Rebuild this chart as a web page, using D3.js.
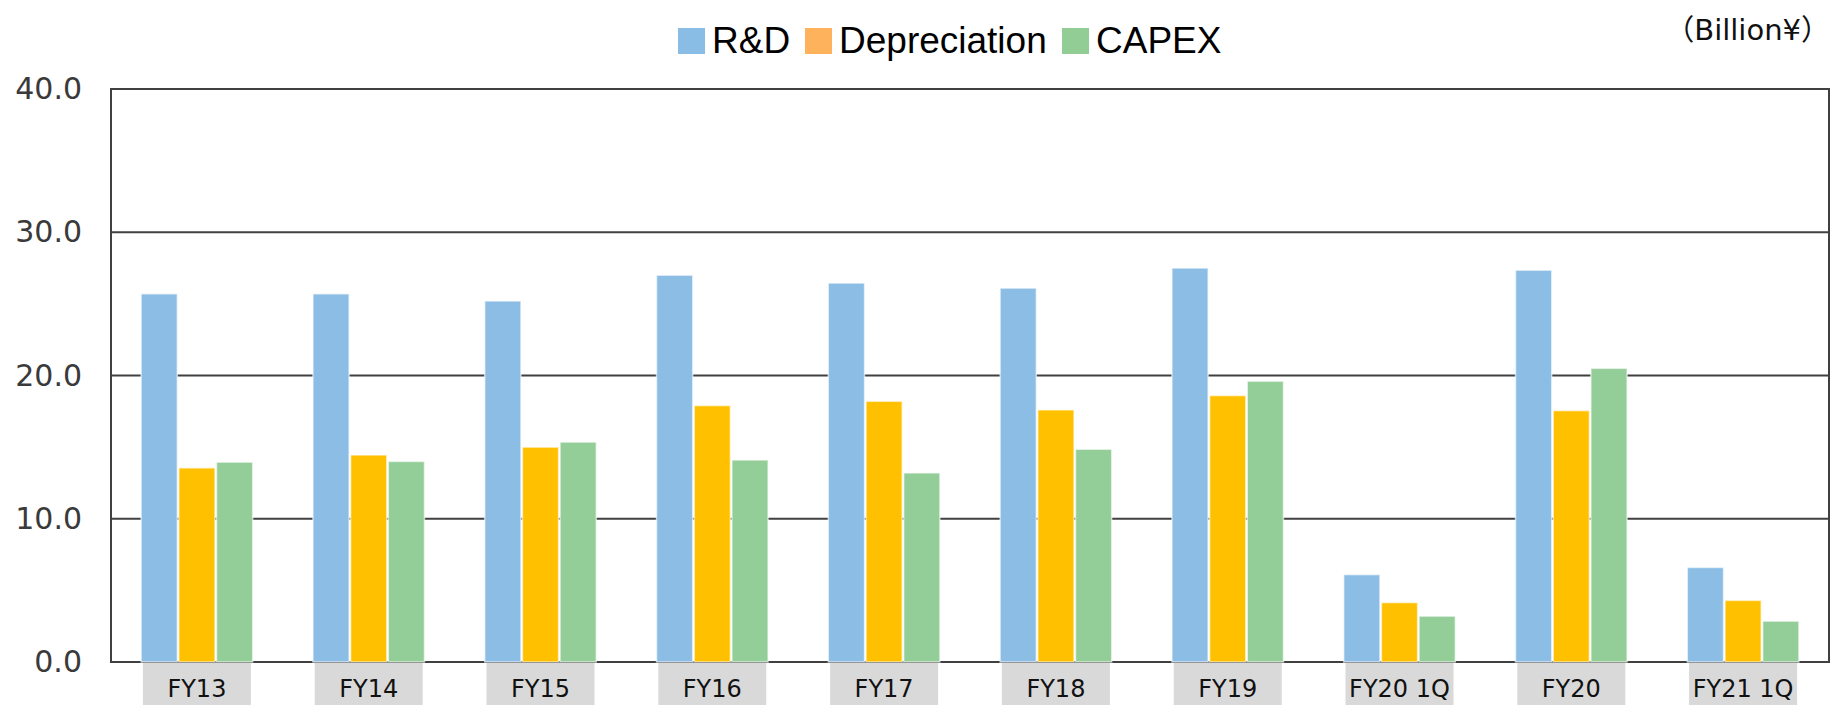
<!DOCTYPE html>
<html>
<head>
<meta charset="utf-8">
<script src="https://cdn.jsdelivr.net/npm/d3@7"></script>
<style>
  body { margin: 0; background: #fff; }
  svg { display: block; }
</style>
</head>
<body>
<svg width="1832" height="705"></svg>
<script>
const categories = ["FY13", "FY14", "FY15", "FY16", "FY17", "FY18", "FY19", "FY20 1Q", "FY20", "FY21 1Q"];
const seriesNames = ["R&D", "Depreciation", "CAPEX"];
const rnd = [25.7, 25.7, 25.2, 27.0, 26.45, 26.1, 27.5, 6.1, 27.35, 6.6];
const depreciation = [13.55, 14.45, 15.0, 17.9, 18.2, 17.6, 18.6, 4.15, 17.55, 4.3];
const capex = [13.95, 14.0, 15.35, 14.1, 13.2, 14.85, 19.6, 3.2, 20.5, 2.85];
const yTicks = [0, 10, 20, 30, 40];
const unitLabel = "（Billion¥）";

let svg = d3.select("svg"),
    margin = {top: 89, right: 3, bottom: 43, left: 111},
    width = +svg.attr("width") - margin.left - margin.right,
    height = +svg.attr("height") - margin.top - margin.bottom,
    g = svg.append("g").attr("transform", "translate(" + margin.left + "," + margin.top + ")");

let data = categories.map((c, i) => ({
  cat: c,
  values: [rnd[i], depreciation[i], capex[i]].map((v, j) => ({key: seriesNames[j], value: v}))
}));

let x0 = d3.scaleBand()
    .domain(categories)
    .range([0, width])
    .paddingInner(0.342)
    .paddingOuter(0.171);

let x1 = d3.scaleBand()
    .domain(seriesNames)
    .range([0, x0.bandwidth()]);

let y = d3.scaleLinear()
    .domain([0, 40])
    .range([height, 0]);

let barColor = d3.scaleOrdinal().domain(seriesNames).range(["#8bbde5", "#ffc000", "#93cd97"]);
let legendColor = d3.scaleOrdinal().domain(seriesNames).range(["#8abde6", "#fdb25b", "#92cd96"]);

// gridlines
g.append("g")
  .selectAll("line")
  .data(yTicks.filter(t => t > 0 && t < 40))
  .enter().append("line")
    .attr("x1", 0)
    .attr("x2", width)
    .attr("y1", d => y(d))
    .attr("y2", d => y(d))
    .attr("stroke", "#404040")
    .attr("stroke-width", 2);

// frame
g.append("rect")
    .attr("x", 0)
    .attr("y", 0)
    .attr("width", width)
    .attr("height", height)
    .attr("fill", "none")
    .attr("stroke", "#404040")
    .attr("stroke-width", 2);

// y axis labels
g.append("g")
    .call(d3.axisLeft(y).tickValues(yTicks).tickSize(0).tickPadding(29).tickFormat(d3.format(".1f")))
    .call(a => a.select(".domain").remove())
    .selectAll("text")
      .attr("font-family", "'DejaVu Sans', Verdana, sans-serif")
      .attr("font-size", 30)
      .attr("fill", "#3a3a3a");

// bars
g.append("g")
  .selectAll("g")
  .data(data)
  .enter().append("g")
    .attr("transform", d => "translate(" + x0(d.cat) + ",0)")
  .selectAll("rect")
  .data(d => d.values)
  .enter().append("rect")
    .attr("x", d => x1(d.key) + 0.75)
    .attr("y", d => y(d.value))
    .attr("width", x1.bandwidth() - 1.5)
    .attr("height", d => height - y(d.value))
    .attr("fill", d => barColor(d.key))
    .attr("stroke", "#ffffff")
    .attr("stroke-opacity", 0.6)
    .attr("stroke-width", 1.5);

// category labels on grey boxes
let labels = g.append("g")
  .selectAll("g")
  .data(categories)
  .enter().append("g")
    .attr("transform", d => "translate(" + (x0(d) + x0.bandwidth() / 2) + "," + (height + 1) + ")");

labels.append("rect")
    .attr("x", -54)
    .attr("y", 0)
    .attr("width", 108)
    .attr("height", 44)
    .attr("fill", "#d9d9d9");

labels.append("text")
    .attr("y", 34)
    .attr("text-anchor", "middle")
    .attr("font-family", "'DejaVu Sans', Verdana, sans-serif")
    .attr("font-size", 24)
    .attr("fill", "#111")
    .text(d => d);

// legend
let legendPos = [678, 805, 1062];
let legend = svg.append("g")
  .selectAll("g")
  .data(seriesNames)
  .enter().append("g")
    .attr("transform", (d, i) => "translate(" + legendPos[i] + ",28)");

legend.append("rect")
    .attr("width", 27)
    .attr("height", 26)
    .attr("fill", d => legendColor(d));

legend.append("text")
    .attr("x", 34)
    .attr("y", 25)
    .attr("font-family", "'Liberation Sans', Arial, sans-serif")
    .attr("font-size", 37)
    .attr("fill", "#000")
    .text(d => d);

// unit label
svg.append("text")
    .attr("x", 1830)
    .attr("y", 40)
    .attr("text-anchor", "end")
    .attr("font-family", "'DejaVu Sans', 'Noto Sans CJK JP', sans-serif")
    .attr("font-size", 29)
    .attr("fill", "#111")
    .text(unitLabel);
</script>
</body>
</html>
